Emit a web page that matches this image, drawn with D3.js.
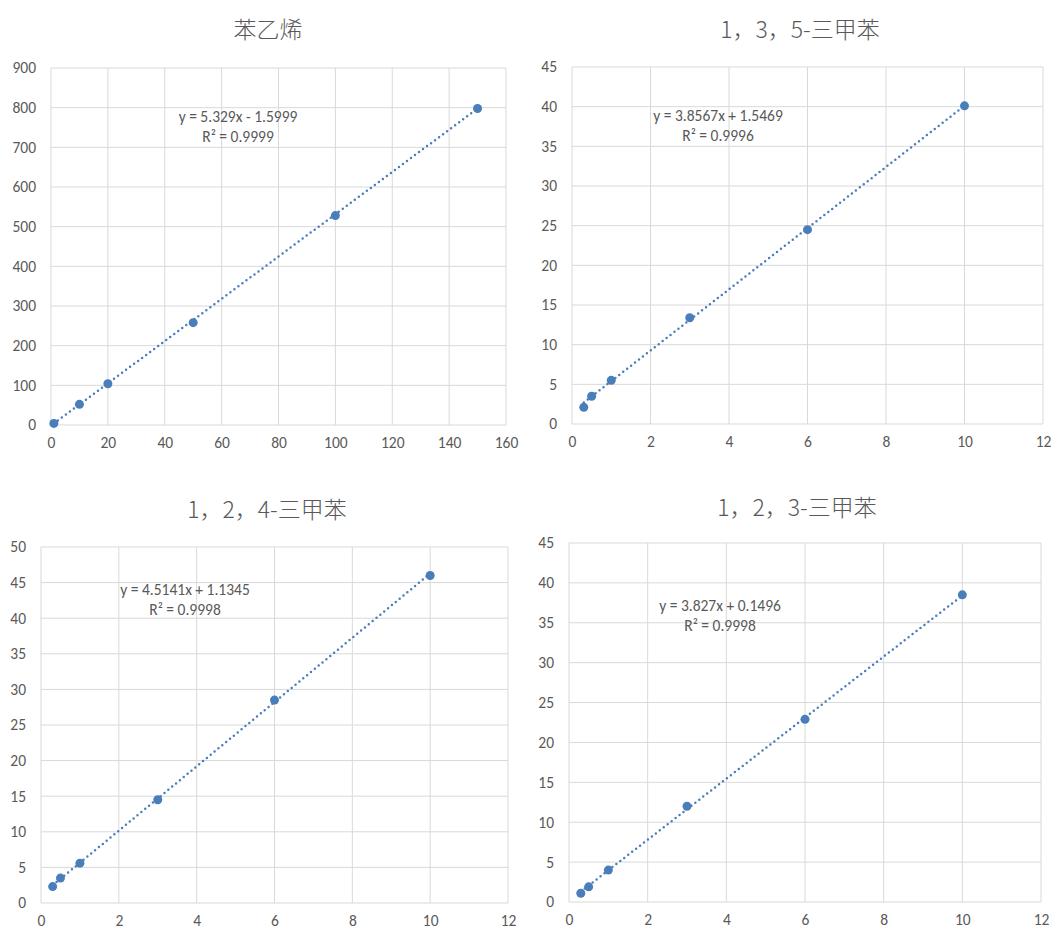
<!DOCTYPE html>
<html>
<head>
<meta charset="utf-8">
<script src="https://cdn.jsdelivr.net/npm/d3@7"></script>
<style>
  body { margin: 0; background: #fff; }
  text { font-family: Carlito, "Liberation Sans Narrow", "Liberation Sans", sans-serif; fill: #595959; }
  .title { font-family: "Noto Sans CJK SC", sans-serif; font-weight: 300; font-size: 23px; }
  .grid line { stroke: #d9d9d9; stroke-width: 1; }
</style>
</head>
<body>
<div id="chart"></div>
<script>
// chart data
const titles = ['苯乙烯', '1，3，5-三甲苯', '1，2，4-三甲苯', '1，2，3-三甲苯'];
const xStyrene = [1, 10, 20, 50, 100, 150];
const yStyrene = [4, 52, 104, 258, 528, 798];
const xTmb = [0.3, 0.5, 1, 3, 6, 10];
const yTmb135 = [2.1, 3.5, 5.5, 13.4, 24.5, 40.1];
const yTmb124 = [2.3, 3.5, 5.6, 14.5, 28.5, 46.0];
const yTmb123 = [1.1, 1.9, 4.0, 12.0, 22.9, 38.5];
const slopes = [5.329, 3.8567, 4.5141, 3.827];
const intercepts = [-1.5999, 1.5469, 1.1345, 0.1496];
const eqTexts = ['y = 5.329x - 1.5999', 'y = 3.8567x + 1.5469', 'y = 4.5141x + 1.1345', 'y = 3.827x + 0.1496'];
const r2Texts = ['R² = 0.9999', 'R² = 0.9996', 'R² = 0.9998', 'R² = 0.9998'];
const xMax = [160, 12, 12, 12];
const xStep = [20, 2, 2, 2];
const yMax = [900, 45, 50, 45];
const yStep = [100, 5, 5, 5];

const xs = [xStyrene, xTmb, xTmb, xTmb];
const ys = [yStyrene, yTmb135, yTmb124, yTmb123];

// layout of each panel (plot area in page pixels)
const panels = [
  {left: 51, right: 506, top: 68, bottom: 425, titleX: 268, titleY: 30, eqX: 238, eqY: 117},
  {left: 572, right: 1043, top: 67, bottom: 424, titleX: 800, titleY: 30, eqX: 718, eqY: 116},
  {left: 41, right: 508, top: 547, bottom: 903, titleX: 267, titleY: 510, eqX: 185, eqY: 590},
  {left: 569, right: 1041, top: 543, bottom: 902, titleX: 797, titleY: 508, eqX: 720, eqY: 606}
];

const color = '#4a7ebb';
const fontSize = '15.5px';

const svg = d3.select('#chart').append('svg')
  .attr('width', 1057)
  .attr('height', 932);

panels.forEach(function(p, k){
  let g = svg.append('g');
  let x = d3.scaleLinear().domain([0, xMax[k]]).range([p.left, p.right]);
  let y = d3.scaleLinear().domain([0, yMax[k]]).range([p.bottom, p.top]);
  let xt = d3.range(0, xMax[k] + xStep[k] / 2, xStep[k]);
  let yt = d3.range(0, yMax[k] + yStep[k] / 2, yStep[k]);

  // gridlines
  let grid = g.append('g').attr('class', 'grid');
  grid.selectAll('.gx').data(xt).enter().append('line')
    .attr('x1', d => x(d)).attr('x2', d => x(d))
    .attr('y1', p.top).attr('y2', p.bottom);
  grid.selectAll('.gy').data(yt).enter().append('line')
    .attr('x1', p.left).attr('x2', p.right)
    .attr('y1', d => y(d)).attr('y2', d => y(d));

  // axes (labels only)
  let xAxis = g.append('g')
    .attr('transform', 'translate(0,' + p.bottom + ')')
    .call(d3.axisBottom(x).tickValues(xt).tickSize(0).tickPadding(12));
  let yAxis = g.append('g')
    .attr('transform', 'translate(' + p.left + ',0)')
    .call(d3.axisLeft(y).tickValues(yt).tickSize(0).tickPadding(15));
  [xAxis, yAxis].forEach(function(a){
    a.select('.domain').remove();
    a.selectAll('text').style('font-size', fontSize).attr('fill', '#595959');
  });

  // title
  g.append('text').attr('class', 'title')
    .attr('x', p.titleX).attr('y', p.titleY)
    .attr('text-anchor', 'middle').attr('dy', '0.35em')
    .text(titles[k]);

  // trendline over the data range
  let x0 = d3.min(xs[k]), x1 = d3.max(xs[k]);
  g.append('line')
    .attr('x1', x(x0)).attr('y1', y(slopes[k] * x0 + intercepts[k]))
    .attr('x2', x(x1)).attr('y2', y(slopes[k] * x1 + intercepts[k]))
    .style('stroke', color)
    .style('stroke-width', 2.5)
    .style('stroke-linecap', 'round')
    .style('stroke-dasharray', '0,5');

  // points
  g.selectAll('.pt').data(xs[k].map((d, i) => [d, ys[k][i]]))
    .enter().append('circle')
    .attr('cx', d => x(d[0])).attr('cy', d => y(d[1]))
    .attr('r', 4.5)
    .style('fill', color);

  // equation labels
  g.append('text').attr('x', p.eqX).attr('y', p.eqY)
    .attr('text-anchor', 'middle').attr('dy', '0.35em')
    .style('font-size', fontSize).text(eqTexts[k]);
  g.append('text').attr('x', p.eqX).attr('y', p.eqY + 20)
    .attr('text-anchor', 'middle').attr('dy', '0.35em')
    .style('font-size', fontSize).text(r2Texts[k]);
});
</script>
</body>
</html>
